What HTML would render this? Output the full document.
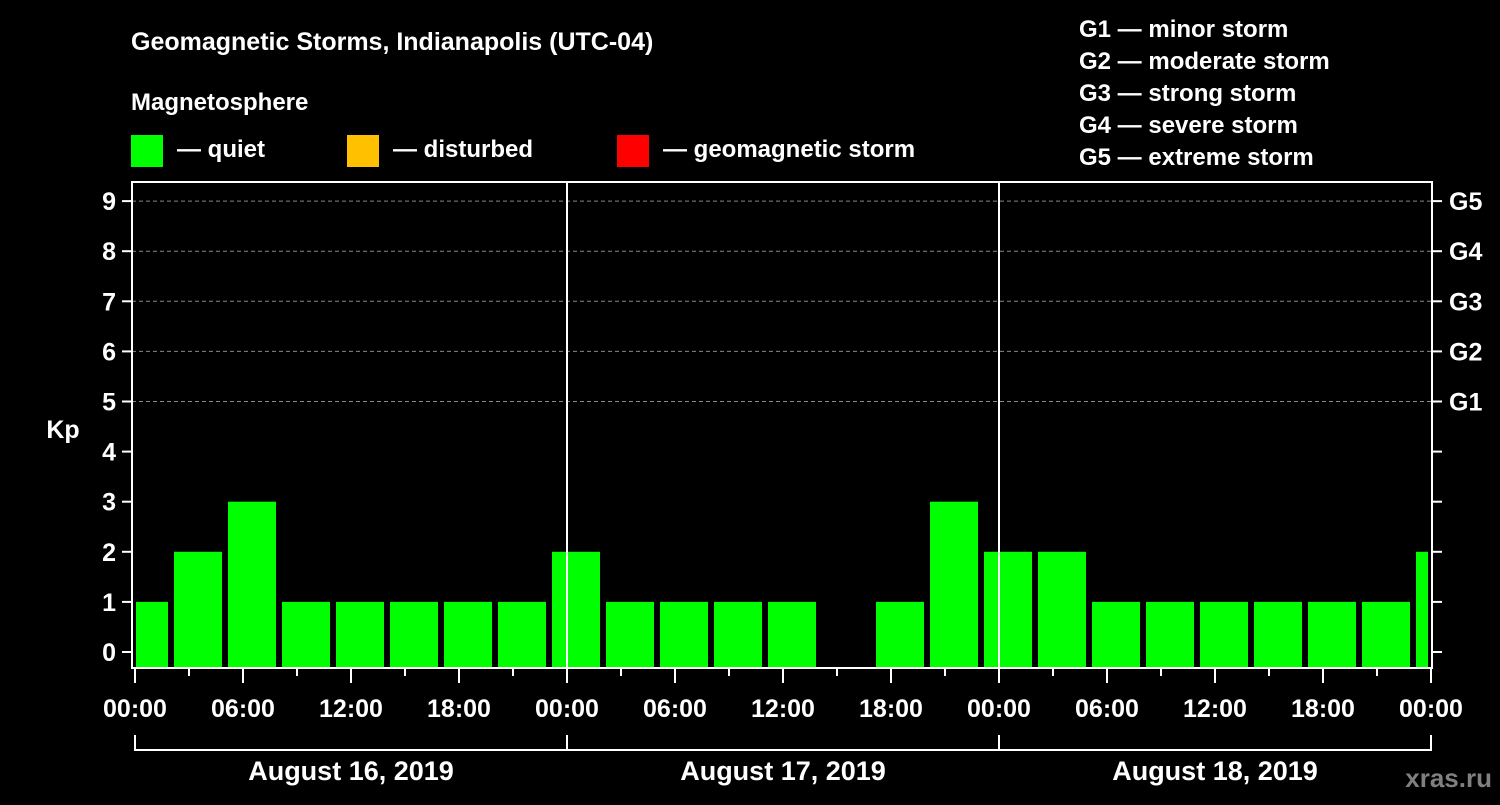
<!DOCTYPE html>
<html><head><meta charset="utf-8">
<style>
body{margin:0;background:#000;width:1500px;height:800px;overflow:hidden;font-family:"Liberation Sans",sans-serif}
svg text{font-family:"Liberation Sans",sans-serif;font-weight:bold;fill:#fff}
</style></head>
<body>
<svg width="1500" height="800" id="chart">
<rect width="1500" height="800" fill="#000"/>
<text x="131" y="50" font-size="25">Geomagnetic Storms, Indianapolis (UTC-04)</text>
<text x="131" y="110" font-size="24">Magnetosphere</text>
<g><rect x="131" y="135" width="32" height="32" fill="#00ff00"/><text x="177" y="157" font-size="24">— quiet</text></g>
<g><rect x="347" y="135" width="32" height="32" fill="#ffc000"/><text x="393" y="157" font-size="24">— disturbed</text></g>
<g><rect x="617" y="135" width="32" height="32" fill="#ff0000"/><text x="663" y="157" font-size="24">— geomagnetic storm</text></g>
<g font-size="24">
<text x="1079" y="37">G1 — minor storm</text>
<text x="1079" y="69">G2 — moderate storm</text>
<text x="1079" y="101">G3 — strong storm</text>
<text x="1079" y="133">G4 — severe storm</text>
<text x="1079" y="165">G5 — extreme storm</text>
</g>
<text x="63" y="438" font-size="25" text-anchor="middle">Kp</text>
<text x="1492" y="787" font-size="26" text-anchor="end" style="fill:#808080">xras.ru</text>
<g id="grid"></g><g id="bars"></g><g id="axes"></g>
</svg>
<script>
const kpValues=[1,2,3,1,1,1,1,1,2,1,1,1,1,0,1,3,2,2,1,1,1,1,1,1,2];
const yTicks=[0,1,2,3,4,5,6,7,8,9];
const gLabels=["G1","G2","G3","G4","G5"];
const xTickLabels=["00:00","06:00","12:00","18:00","00:00","06:00","12:00","18:00","00:00","06:00","12:00","18:00","00:00"];
const dayLabels=["August 16, 2019","August 17, 2019","August 18, 2019"];
const NS="http://www.w3.org/2000/svg";
const L=132,R=1432,T=182,B=668,x0=135,dayW=432;
const y=v=>652-v*50.1;
const xh=h=>x0+h*dayW/24;
function mk(tag,attrs,parent,txt){const e=document.createElementNS(NS,tag);for(const k in attrs)e.setAttribute(k,attrs[k]);if(txt!==undefined)e.textContent=txt;document.getElementById(parent).appendChild(e);return e;}
// grid
for(let v=5;v<=9;v++){const e=mk('line',{x1:L,x2:R,y1:y(v),y2:y(v),stroke:'#888','stroke-dasharray':'4,3','stroke-width':1},'grid');

}
// bars (3h slots, UTC-04 offset => start at local -1h)
kpValues.forEach((v,k)=>{if(v<=0)return;
let a=xh(-1+3*k)+3,b=xh(2+3*k)-3;a=Math.max(a,136);b=Math.min(b,1428);
const c=v>=5?'#ff0000':(v>=4?'#ffc000':'#00ff00');
const e=mk('rect',{x:a,y:y(v),width:b-a,height:B-1-y(v),fill:c},'bars');

});
// frame
const f=mk('rect',{x:L,y:T,width:R-L,height:B-T,fill:'none',stroke:'#fff','stroke-width':2},'axes');


[1,2].forEach(d=>{const e=mk('line',{x1:x0+d*dayW,x2:x0+d*dayW,y1:T,y2:B,stroke:'#fff','stroke-width':2},'axes');

});
yTicks.forEach(v=>{
const t1=mk('line',{x1:122,x2:L,y1:y(v),y2:y(v),stroke:'#fff','stroke-width':2},'axes');


const t2=mk('line',{x1:R,x2:R+10,y1:y(v),y2:y(v),stroke:'#fff','stroke-width':2},'axes');


const l=mk('text',{x:116,y:y(v)+9,'font-size':25,'text-anchor':'end'},'axes',String(v));


if(v>=5){const g=mk('text',{x:1449,y:y(v)+9,'font-size':25},'axes',gLabels[v-5]);

}
});
for(let h=0;h<=72;h+=3){const len=h%6===0?15:8;
const e=mk('line',{x1:xh(h),x2:xh(h),y1:B,y2:B+len,stroke:'#fff','stroke-width':2},'axes');

}
xTickLabels.forEach((s,i)=>{const e=mk('text',{x:xh(i*6),y:717,'font-size':25,'text-anchor':'middle'},'axes',s);

});
const br=mk('line',{x1:x0,x2:x0+3*dayW,y1:750,y2:750,stroke:'#fff','stroke-width':2},'axes');


for(let d=0;d<=3;d++){const e=mk('line',{x1:x0+d*dayW,x2:x0+d*dayW,y1:735,y2:751,stroke:'#fff','stroke-width':2},'axes');

}
dayLabels.forEach((s,i)=>{const e=mk('text',{x:x0+(i+0.5)*dayW,y:780,'font-size':27,'text-anchor':'middle'},'axes',s);

});
</script>
</body></html>
